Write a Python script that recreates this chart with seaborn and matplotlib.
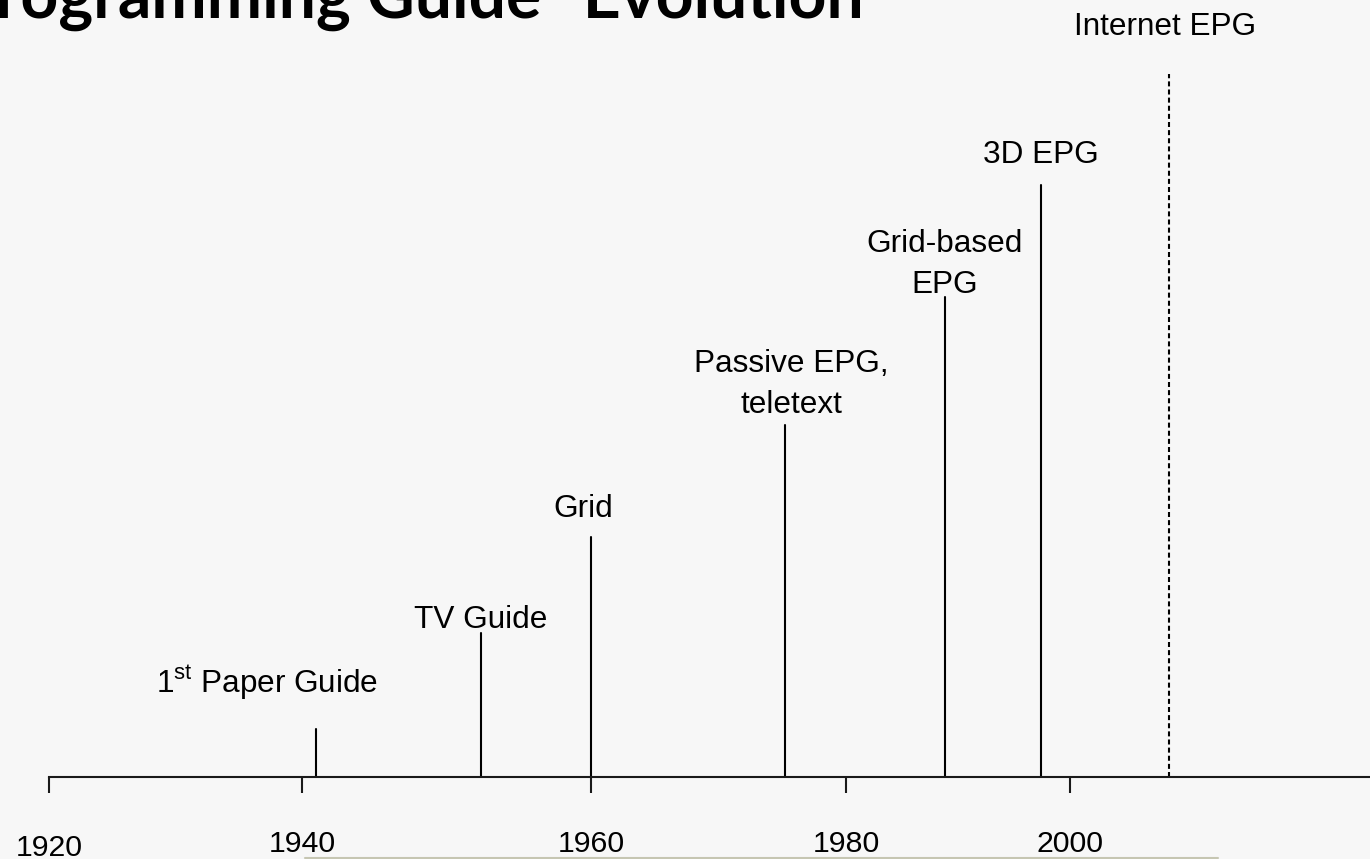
import numpy as np
import pandas as pd
import matplotlib
matplotlib.use("Agg")
import matplotlib.pyplot as plt
import matplotlib.transforms as mtransforms
from matplotlib.lines import Line2D
import seaborn as sns

# timeline events
events = ["1$^{\\mathrm{st}}$ Paper Guide", "TV Guide", "Grid",
          "Passive EPG,\nteletext", "Grid-based\nEPG", "3D EPG", "Internet EPG"]
event_years = [1941, 1952.4, 1960, 1975.2, 1988.8, 1997.4, 2008.8]
event_heights = [48, 144, 240, 352, 480, 592, 703]
event_kind = ["past", "past", "past", "past", "past", "past", "emerging"]

tick_years = [1920, 1940, 1960, 1980, 2000]
tick_labels = ["1920", "1940", "1960", "1980", "2000"]

title = "\u201cElectronic Programming Guide\u201d Evolution"

W, H, DPI = 1370, 859, 100
BG = "#f7f7f7"

# the slide's year axis is not evenly spaced: pixel column of each decade tick
axis_px = [49, 302, 591, 846, 1070]


def piecewise(x, xp, fp):
    x = np.asarray(x, dtype=float)
    y = np.interp(x, xp, fp)
    lo_slope = (fp[1] - fp[0]) / (xp[1] - xp[0])
    hi_slope = (fp[-1] - fp[-2]) / (xp[-1] - xp[-2])
    y = np.where(x < xp[0], fp[0] + (x - xp[0]) * lo_slope, y)
    y = np.where(x > xp[-1], fp[-1] + (x - xp[-1]) * hi_slope, y)
    return y


def year_to_px(x):
    return piecewise(x, tick_years, axis_px)


def px_to_year(x):
    return piecewise(x, axis_px, tick_years)


sns.set_theme(style="white")
plt.rcParams["font.family"] = ["Liberation Sans", "DejaVu Sans"]
plt.rcParams["mathtext.fontset"] = "custom"
plt.rcParams["mathtext.rm"] = "Liberation Sans"

fig = plt.figure(figsize=(W / DPI, H / DPI), dpi=DPI, facecolor=BG)
ax = fig.add_axes([0, 0, 1, 1])
ax.set_facecolor(BG)

df = pd.DataFrame({
    "year": np.repeat(event_years, 2),
    "level": np.ravel([[0, h] for h in event_heights]),
    "event": np.repeat(np.arange(len(events)), 2),
    "kind": np.repeat(event_kind, 2),
})

sns.lineplot(data=df, x="year", y="level", units="event", estimator=None,
             style="kind", dashes={"past": "", "emerging": (2.4, 1.5)},
             color="black", lw=1.5, sort=False, legend=False, ax=ax)

ax.set_xscale("function", functions=(year_to_px, px_to_year))
x_lo, x_hi = float(px_to_year(0)), float(px_to_year(W))
ax.set_xlim(x_lo, x_hi)
ax.set_ylim(-(H - 777), 777)

# labels above each line (dx shift, gap above line top, in pixels)
label_dx = [-49, 0, -8, 7, 0, 0, -3]
label_gap = [34, 5, 20, 12, 4, 22, 39]
for name, yr, h, dx, gap in zip(events, event_years, event_heights, label_dx, label_gap):
    ax.annotate(name, xy=(yr, h), xytext=(dx * 0.72, (gap - 6.6) * 0.72),
                textcoords="offset points", ha="center", va="bottom",
                fontsize=22.7, color="black", linespacing=1.48)

# timeline axis
for side in ["top", "left", "right"]:
    ax.spines[side].set_visible(False)
ax.spines["bottom"].set_position(("data", 0))
ax.spines["bottom"].set_bounds(1920, x_hi)
ax.spines["bottom"].set_color("#1a1a1a")
ax.spines["bottom"].set_linewidth(1.5)
ax.set_xticks(tick_years, tick_labels)
ax.set_yticks([])
ax.tick_params(axis="x", bottom=True, direction="out", length=11.5, width=1.5,
               color="#1a1a1a", pad=27, labelsize=21.8, labelcolor="black")
ax.set_xlabel("")
ax.set_ylabel("")

first = ax.xaxis.get_major_ticks()[0].label1
first.set_transform(first.get_transform()
                    + mtransforms.ScaledTranslation(0, -3.5 / DPI, fig.dpi_scale_trans))

fig.text(864 / W, 1 - 18 / H, title, ha="right", va="baseline",
         fontsize=47.5, fontweight="bold", family=["Lato", "DejaVu Sans"], color="black")

fig.add_artist(Line2D([305 / W, 1218 / W], [1 - 858 / H] * 2,
                      color="#c6c6b2", lw=1.5))

fig.savefig("out.png", dpi=DPI, facecolor=BG)
